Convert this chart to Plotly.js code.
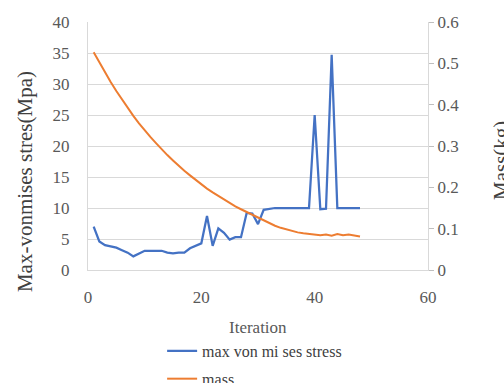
<!DOCTYPE html>
<html><head><meta charset="utf-8">
<script src="https://cdn.plot.ly/plotly-3.0.1.min.js"></script>
<style>html,body{margin:0;padding:0;background:#fff}#chart{width:504px;height:383px}</style>
</head><body><div id="chart"></div>
<script>
const iterations = [1,2,3,4,5,6,7,8,9,10,11,12,13,14,15,16,17,18,19,20,21,22,23,24,25,26,27,28,29,30,31,32,33,34,35,36,37,38,39,40,41,42,43,44,45,46,47,48];
const stress = [7.0,4.6,4.0,3.8,3.6,3.2,2.8,2.2,2.7,3.1,3.1,3.1,3.1,2.8,2.7,2.8,2.8,3.5,3.9,4.3,8.7,3.9,6.7,6.0,4.9,5.3,5.3,9.2,9.1,7.4,9.7,9.9,10,10,10,10,10,10,10,25,9.8,9.9,34.7,10,10,10,10,10];
const mass = [0.527,0.502,0.478,0.455,0.433,0.412,0.392,0.373,0.355,0.338,0.322,0.307,0.292,0.278,0.265,0.252,0.240,0.229,0.218,0.207,0.197,0.188,0.179,0.170,0.162,0.154,0.147,0.140,0.133,0.126,0.119,0.113,0.107,0.102,0.098,0.094,0.091,0.089,0.087,0.086,0.084,0.086,0.083,0.087,0.084,0.086,0.083,0.081];
const stressName = 'max von mi ses stress';
const massName = 'mass';
const xTicks = [0,20,40,60];
const yTicks = [0,5,10,15,20,25,30,35,40];
const y2Ticks = [0,0.1,0.2,0.3,0.4,0.5,0.6];
const leftTitle = 'Max-vonmises stres(Mpa)';
const rightTitle = 'Mass(kg)';
const xTitle = 'Iteration';

const serif = 'Liberation Serif';
const data = [
  {x: iterations, y: stress, name: stressName, type: 'scatter', mode: 'lines',
   line: {color: '#4472C4', width: 2.25}, legendgroup: 'a', yaxis: 'y'},
  {x: iterations, y: mass, name: massName, type: 'scatter', mode: 'lines',
   line: {color: '#ED7D31', width: 2}, legendgroup: 'b', yaxis: 'y2'}
];
const layout = {
  width: 504, height: 383,
  margin: {l: 88, r: 76, t: 22, b: 113},
  paper_bgcolor: '#fff', plot_bgcolor: '#fff',
  font: {family: serif, color: '#595959', size: 17},
  showlegend: true,
  legend: {orientation: 'v', x: 0.218, xanchor: 'left', yref: 'container', y: 0.128, yanchor: 'top',
    font: {family: serif, size: 16, color: '#404040'}, traceorder: 'grouped',
    tracegroupgap: 4, bgcolor: 'rgba(0,0,0,0)'},
  xaxis: {range: [0, 60], tickvals: xTicks, ticktext: xTicks.map(String),
    showgrid: false, zeroline: false, showline: true, linecolor: '#d9d9d9', linewidth: 1,
    ticks: 'outside', ticklen: 12, tickcolor: 'rgba(0,0,0,0)',
    tickfont: {family: serif, size: 17, color: '#595959'}},
  yaxis: {range: [0, 40], tickvals: yTicks, ticktext: yTicks.map(String),
    showgrid: true, gridcolor: '#d9d9d9', zeroline: false, showline: true, linecolor: '#d9d9d9',
    ticks: 'outside', ticklen: 14, tickcolor: 'rgba(0,0,0,0)',
    tickfont: {family: serif, size: 17, color: '#595959'}},
  yaxis2: {range: [0, 0.6], tickvals: y2Ticks, ticktext: y2Ticks.map(v => v === 0 ? '0' : String(v)),
    overlaying: 'y', side: 'right', showgrid: false, zeroline: false,
    showline: true, linecolor: '#d9d9d9', ticks: 'outside', ticklen: 5, tickcolor: '#bfbfbf',
    tickfont: {family: serif, size: 17, color: '#595959'}},
  annotations: [
    {text: leftTitle, xref: 'paper', yref: 'paper', x: -0.185, y: 0.355, xanchor: 'center', yanchor: 'middle',
     textangle: -90, showarrow: false, font: {family: serif, size: 21, color: '#404040'}},
    {text: rightTitle, xref: 'paper', yref: 'paper', x: 1.215, y: 0.44, xanchor: 'center', yanchor: 'middle',
     textangle: -90, showarrow: false, font: {family: serif, size: 21, color: '#404040'}},
    {text: xTitle, xref: 'paper', yref: 'paper', x: 0.5, y: -0.185, xanchor: 'center', yanchor: 'top',
     showarrow: false, font: {family: serif, size: 17, color: '#595959'}}
  ]
};
Plotly.newPlot('chart', data, layout, {displayModeBar: false, staticPlot: true});
</script></body></html>
